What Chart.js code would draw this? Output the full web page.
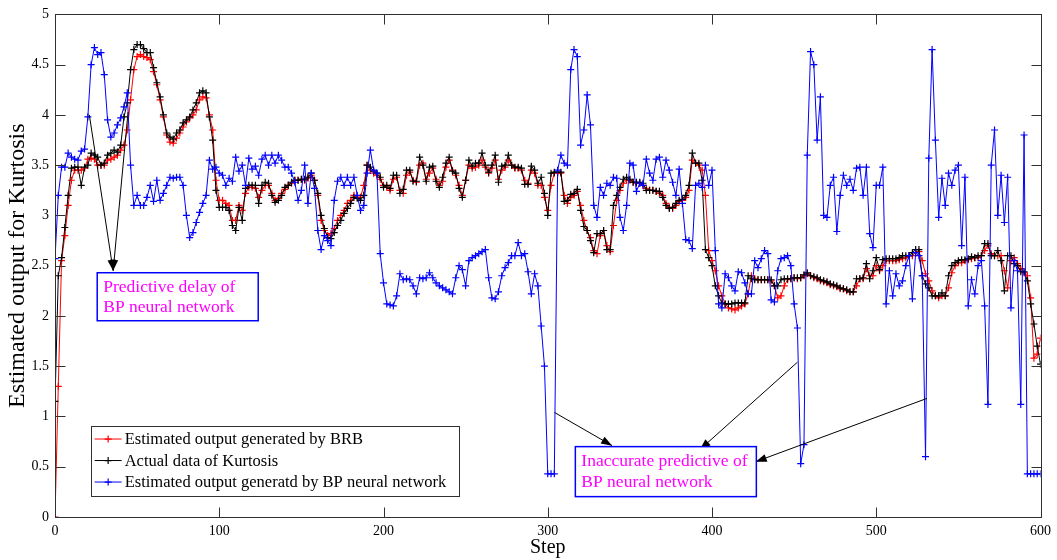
<!DOCTYPE html>
<html><head><meta charset="utf-8">
<script src="https://cdn.jsdelivr.net/npm/chart.js@4.4.1/dist/chart.umd.min.js"></script>
<style>html,body{margin:0;padding:0;background:#fff;}#wrap{width:1057px;height:560px;}</style>
</head><body><div id="wrap"><canvas id="c" width="1057" height="560"></canvas></div>
<script>
// Step index (every second step, 0..600)
const steps = Array.from({length: 301}, (_, i) => i * 2);

const brb = [
0,1.3,2.55,2.8,3.1,3.35,3.45,3.45,3.45,3.47,
3.56,3.57,3.56,3.5,3.5,3.5,3.55,3.56,3.58,3.6,
3.65,3.7,3.85,4.15,4.45,4.58,4.6,4.58,4.57,4.55,
4.43,4.3,4.15,3.98,3.8,3.73,3.72,3.77,3.82,3.88,
3.93,3.97,4.0,4.05,4.15,4.18,4.17,4.0,3.85,3.35,
3.15,3.15,3.12,3.1,2.95,2.95,3.1,3.05,3.22,3.28,
3.28,3.27,3.18,3.25,3.3,3.3,3.22,3.15,3.17,3.22,
3.26,3.3,3.32,3.35,3.35,3.36,3.35,3.37,3.4,3.35,
3.2,2.95,2.85,2.8,2.82,2.87,2.95,3.0,3.05,3.12,
3.15,3.2,3.18,3.18,3.3,3.5,3.45,3.42,3.4,3.36,
3.3,3.28,3.25,3.36,3.38,3.25,3.22,3.4,3.43,3.35,
3.33,3.5,3.52,3.36,3.42,3.47,3.36,3.3,3.34,3.48,
3.55,3.45,3.4,3.3,3.2,3.35,3.5,3.47,3.48,3.5,
3.55,3.48,3.42,3.47,3.55,3.36,3.45,3.48,3.55,3.5,
3.47,3.47,3.45,3.35,3.32,3.45,3.42,3.3,3.3,3.18,
3.05,3.3,3.42,3.42,3.42,3.2,3.12,3.18,3.2,3.24,
3.1,2.95,2.85,2.78,2.65,2.62,2.8,2.85,2.7,2.64,
2.9,3.15,3.25,3.32,3.35,3.35,3.33,3.32,3.32,3.3,
3.27,3.25,3.25,3.24,3.22,3.2,3.12,3.08,3.07,3.1,
3.14,3.15,3.18,3.25,3.55,3.52,3.5,3.45,3.2,2.65,
2.55,2.45,2.3,2.2,2.12,2.08,2.07,2.06,2.08,2.1,
2.12,2.22,2.4,2.37,2.36,2.36,2.36,2.36,2.35,2.3,
2.18,2.2,2.3,2.36,2.37,2.38,2.37,2.38,2.4,2.42,
2.4,2.38,2.37,2.35,2.34,2.33,2.31,2.3,2.29,2.27,
2.27,2.25,2.24,2.24,2.3,2.37,2.37,2.47,2.4,2.4,
2.5,2.45,2.5,2.55,2.55,2.55,2.55,2.56,2.57,2.58,
2.6,2.6,2.63,2.64,2.55,2.42,2.35,2.25,2.2,2.18,
2.2,2.2,2.28,2.43,2.5,2.53,2.53,2.55,2.56,2.57,
2.58,2.58,2.6,2.65,2.7,2.62,2.6,2.6,2.6,2.45,
2.28,2.55,2.58,2.52,2.47,2.43,2.4,2.18,1.58,1.62,
1.78];

const actual = [
1.15,2.4,2.58,2.88,3.2,3.47,3.48,3.48,3.3,3.48,
3.5,3.62,3.6,3.58,3.5,3.52,3.6,3.62,3.65,3.63,
3.7,3.98,4.12,4.45,4.65,4.7,4.7,4.66,4.62,4.62,
4.47,4.32,4.18,4.0,3.82,3.78,3.76,3.82,3.85,3.92,
3.95,3.98,4.05,4.12,4.22,4.24,4.22,3.98,3.75,3.25,
3.08,3.08,3.08,3.05,2.9,2.85,3.08,2.95,3.27,3.3,
3.3,3.3,3.12,3.3,3.33,3.32,3.2,3.13,3.15,3.2,
3.28,3.3,3.33,3.35,3.35,3.36,3.36,3.38,3.42,3.35,
3.22,3.0,2.87,2.78,2.77,2.83,2.9,2.95,3.02,3.07,
3.12,3.18,3.17,3.15,3.2,3.5,3.48,3.44,3.42,3.38,
3.28,3.3,3.27,3.4,3.4,3.22,3.26,3.45,3.45,3.34,
3.34,3.58,3.5,3.34,3.48,3.49,3.34,3.28,3.38,3.52,
3.58,3.44,3.42,3.27,3.18,3.35,3.55,3.49,3.52,3.52,
3.62,3.5,3.43,3.5,3.6,3.33,3.49,3.5,3.6,3.5,
3.48,3.48,3.47,3.31,3.31,3.49,3.45,3.32,3.38,3.22,
3.0,3.42,3.43,3.43,3.43,3.14,3.15,3.21,3.22,3.26,
3.05,2.89,2.85,2.75,2.63,2.82,2.82,2.85,2.66,2.66,
3.1,3.2,3.28,3.36,3.38,3.36,3.33,3.33,3.33,3.32,
3.25,3.25,3.25,3.24,3.24,3.18,3.1,3.07,3.08,3.12,
3.15,3.16,3.2,3.3,3.62,3.52,3.52,3.35,2.66,2.58,
2.5,2.3,2.2,2.13,2.12,2.12,2.12,2.13,2.13,2.13,
2.13,2.4,2.37,2.36,2.36,2.36,2.36,2.36,2.36,2.3,
2.3,2.36,2.37,2.37,2.37,2.38,2.38,2.38,2.41,2.43,
2.4,2.39,2.38,2.36,2.35,2.34,2.32,2.31,2.3,2.28,
2.27,2.26,2.24,2.24,2.37,2.37,2.38,2.52,2.37,2.45,
2.58,2.46,2.56,2.57,2.57,2.57,2.57,2.58,2.6,2.6,
2.6,2.63,2.66,2.66,2.4,2.32,2.28,2.2,2.2,2.2,
2.23,2.2,2.4,2.5,2.53,2.55,2.56,2.56,2.57,2.59,
2.58,2.6,2.6,2.72,2.72,2.6,2.6,2.65,2.55,2.25,
2.6,2.6,2.52,2.5,2.44,2.44,2.35,2.12,1.92,1.7,
1.52];

const bp = [
2.57,3.2,3.48,3.48,3.62,3.58,3.56,3.55,3.64,3.66,
3.98,4.5,4.67,4.6,4.62,4.4,3.95,3.78,3.82,3.9,
3.97,4.08,4.22,3.5,3.1,3.2,3.1,3.1,3.18,3.3,
3.14,3.35,3.15,3.22,3.3,3.38,3.37,3.38,3.38,3.3,
3.0,2.78,2.83,2.93,3.03,3.12,3.2,3.55,3.46,3.48,
3.42,3.4,3.3,3.37,3.34,3.58,3.44,3.5,3.3,3.57,
3.46,3.49,3.4,3.56,3.6,3.5,3.6,3.52,3.6,3.55,
3.48,3.48,3.42,3.33,3.15,3.25,3.5,3.12,3.42,3.27,
2.85,2.66,2.8,2.75,2.7,3.15,3.34,3.38,3.3,3.38,
3.3,3.38,3.2,3.05,3.1,3.42,3.65,3.45,3.42,2.62,
2.33,2.12,2.11,2.1,2.2,2.42,2.36,2.37,2.36,2.3,
2.22,2.38,2.37,2.38,2.43,2.38,2.33,2.3,2.28,2.26,
2.24,2.22,2.38,2.5,2.46,2.3,2.55,2.58,2.6,2.62,
2.64,2.66,2.38,2.18,2.17,2.24,2.4,2.48,2.53,2.6,
2.6,2.73,2.6,2.62,2.44,2.22,2.42,2.3,1.9,1.5,
0.43,0.43,0.43,3.45,3.6,3.52,3.5,4.45,4.65,4.58,
3.7,3.85,4.2,3.9,3.1,2.98,3.28,3.2,3.32,3.3,
3.38,3.37,2.98,2.85,3.1,3.52,3.5,3.24,3.32,3.3,
3.56,3.42,3.35,3.56,3.58,3.38,3.55,3.45,3.33,3.2,
3.46,3.12,2.76,2.75,2.67,3.3,3.32,3.28,3.5,3.3,
3.45,2.65,2.12,2.08,2.42,2.38,2.3,2.25,2.44,2.43,
2.33,2.22,2.22,2.55,2.48,2.57,2.65,2.62,2.16,2.14,
2.45,2.57,2.58,2.6,2.5,2.12,1.88,0.53,0.72,3.6,
4.63,4.5,3.75,4.18,3.0,2.98,3.3,3.38,2.84,3.2,
3.4,3.3,3.36,3.25,3.47,3.48,3.2,3.48,2.82,2.68,
3.3,3.3,3.48,2.12,2.45,2.2,2.42,2.3,2.35,2.5,
2.6,2.17,2.63,2.6,2.4,0.6,3.57,4.65,3.75,2.98,
3.37,3.1,3.42,3.3,3.45,3.5,2.7,3.38,2.1,2.36,
2.22,2.5,2.55,2.1,1.12,3.5,3.85,3.0,3.4,2.93,
3.38,2.08,2.55,2.45,1.12,3.8,0.43,0.43,0.43,0.43,
0.43];

const seriesNames = ['Estimated output generated by BRB', 'Actual data of Kurtosis', 'Estimated output generatd by BP neural network'];
const seriesColors = ['#ff0000', '#000000', '#0000ff'];
const xTicks = [0, 100, 200, 300, 400, 500, 600];
const yTicks = [0, 0.5, 1, 1.5, 2, 2.5, 3, 3.5, 4, 4.5, 5];
const xTitle = 'Step';
const yTitle = 'Estimated output for Kurtosis';
const note1 = ['Predictive delay of', 'BP neural network'];
const note2 = ['Inaccurate predictive of', 'BP neural network'];

const SERIF = "'Liberation Serif','Times New Roman',serif";

// annotation geometry in data units [step, value]
const note1Box = {x: 25.7, y: 2.43, w: 161, h: 48};
const note1Arrows = [[[20.9, 4.0], [35.4, 2.45]], [[44.5, 4.03], [35.4, 2.45]]];
const note2Box = {x: 316.8, y: 0.70, w: 181, h: 50};
const note2Arrows = [[[304.1, 1.04], [339.2, 0.71]], [[452, 1.54], [392.6, 0.67]], [[530.9, 1.18], [426.6, 0.55]]];
const legendBox = {x: 21.7, y: 0.905, w: 368, h: 70};

function mk(values, idx, order) {
  return {
    label: seriesNames[idx],
    data: steps.map((s, i) => ({x: s, y: values[i]})),
    borderColor: seriesColors[idx],
    backgroundColor: seriesColors[idx],
    borderWidth: 1,
    pointStyle: 'cross',
    pointRadius: 3.5,
    pointBorderWidth: 1.2,
    pointBorderColor: seriesColors[idx],
    tension: 0,
    order: order
  };
}

function arrow(ctx, x1, y1, x2, y2) {
  ctx.beginPath(); ctx.moveTo(x1, y1); ctx.lineTo(x2, y2); ctx.stroke();
  const a = Math.atan2(y2 - y1, x2 - x1), L = 11, W = 4;
  ctx.beginPath();
  ctx.moveTo(x2, y2);
  ctx.lineTo(x2 - L * Math.cos(a) + W * Math.sin(a), y2 - L * Math.sin(a) - W * Math.cos(a));
  ctx.lineTo(x2 - L * Math.cos(a) - W * Math.sin(a), y2 - L * Math.sin(a) + W * Math.cos(a));
  ctx.closePath(); ctx.fill();
}

const framePlugin = {
  id: 'frame',
  afterDatasetsDraw(chart) {
    const {ctx, chartArea: a, scales: {x, y}} = chart;
    ctx.save();
    ctx.strokeStyle = '#303030';
    ctx.lineWidth = 1;
    const L = Math.round(a.left) + 0.5, R = Math.round(a.right) + 0.5, T = Math.round(a.top) + 0.5, B = Math.round(a.bottom) + 0.5;
    ctx.strokeRect(L, T, R - L, B - T);
    ctx.beginPath();
    xTicks.forEach(v => {
      const px = Math.round(x.getPixelForValue(v)) + 0.5;
      ctx.moveTo(px, B); ctx.lineTo(px, B - 10);
      ctx.moveTo(px, T); ctx.lineTo(px, T + 10);
    });
    yTicks.forEach(v => {
      const py = Math.round(y.getPixelForValue(v)) + 0.5;
      ctx.moveTo(L, py); ctx.lineTo(L + 10, py);
      ctx.moveTo(R, py); ctx.lineTo(R - 10, py);
    });
    ctx.stroke();
    ctx.restore();
  },
  afterDraw(chart) {
    const {ctx, scales: {x, y}} = chart;
    const P = p => [x.getPixelForValue(p[0]), y.getPixelForValue(p[1])];
    ctx.save();
    // arrows
    ctx.strokeStyle = '#000'; ctx.fillStyle = '#000'; ctx.lineWidth = 1;
    note1Arrows.concat(note2Arrows).forEach(([s, e]) => {
      const [x1, y1] = P(s), [x2, y2] = P(e);
      arrow(ctx, x1, y1, x2, y2);
    });
    // note boxes
    [[note1Box, note1], [note2Box, note2]].forEach(([b, lines]) => {
      const [bx, by] = P([b.x, b.y]);
      ctx.fillStyle = '#fff';
      ctx.fillRect(bx, by, b.w, b.h);
      ctx.strokeStyle = '#0000ff'; ctx.lineWidth = 1.5;
      ctx.strokeRect(bx, by, b.w, b.h);
      ctx.fillStyle = '#ff00ff';
      ctx.font = '17.5px ' + SERIF;
      ctx.textBaseline = 'middle'; ctx.textAlign = 'left';
      ctx.fillText(lines[0], bx + 6, by + b.h * 0.3);
      ctx.fillText(lines[1], bx + 6, by + b.h * 0.72);
    });
    // legend
    const [lx, ly] = P([legendBox.x, legendBox.y]);
    ctx.fillStyle = '#fff';
    ctx.fillRect(lx, ly, legendBox.w, legendBox.h);
    ctx.strokeStyle = '#303030'; ctx.lineWidth = 1;
    ctx.strokeRect(Math.round(lx) + 0.5, Math.round(ly) + 0.5, legendBox.w, legendBox.h);
    ctx.font = '16.5px ' + SERIF;
    ctx.textBaseline = 'middle'; ctx.textAlign = 'left';
    seriesNames.forEach((name, i) => {
      const yy = ly + 13 + i * 21.5;
      ctx.strokeStyle = seriesColors[i]; ctx.lineWidth = 1;
      ctx.beginPath(); ctx.moveTo(lx + 4, yy); ctx.lineTo(lx + 31, yy); ctx.stroke();
      ctx.lineWidth = 1.2;
      ctx.beginPath();
      ctx.moveTo(lx + 14, yy); ctx.lineTo(lx + 21, yy);
      ctx.moveTo(lx + 17.5, yy - 3.5); ctx.lineTo(lx + 17.5, yy + 3.5);
      ctx.stroke();
      ctx.fillStyle = '#000';
      ctx.fillText(name, lx + 34, yy + 1);
    });
    ctx.restore();
  }
};

new Chart(document.getElementById('c').getContext('2d'), {
  type: 'line',
  data: {datasets: [mk(brb, 0, 2), mk(actual, 1, 1), mk(bp, 2, 0)]},
  options: {
    responsive: false,
    animation: false,
    devicePixelRatio: 1,
    layout: {padding: {top: 12, right: 13, left: 0, bottom: 0}},
    plugins: {legend: {display: false}, tooltip: {enabled: false}},
    scales: {
      x: {
        type: 'linear', min: 0, max: 600,
        afterBuildTicks: s => { s.ticks = xTicks.map(v => ({value: v})); },
        ticks: {color: '#000', font: {family: SERIF, size: 14}, padding: 6, maxRotation: 0, autoSkip: false, callback: v => String(v)},
        grid: {display: false, drawTicks: false},
        border: {display: false},
        title: {display: true, text: xTitle, color: '#000', font: {family: SERIF, size: 20}, padding: {top: 0, bottom: 0}},
        afterFit: s => { s.height = 43; }
      },
      y: {
        type: 'linear', min: 0, max: 5,
        afterBuildTicks: s => { s.ticks = yTicks.map(v => ({value: v})); },
        ticks: {color: '#000', font: {family: SERIF, size: 14}, padding: 6, autoSkip: false, callback: v => String(v)},
        grid: {display: false, drawTicks: false},
        border: {display: false},
        title: {display: true, text: yTitle, color: '#000', font: {family: SERIF, size: 24}, padding: {top: 3, bottom: 0}},
        afterFit: s => { s.width = 55; }
      }
    }
  },
  plugins: [framePlugin]
});
</script>
</body></html>
